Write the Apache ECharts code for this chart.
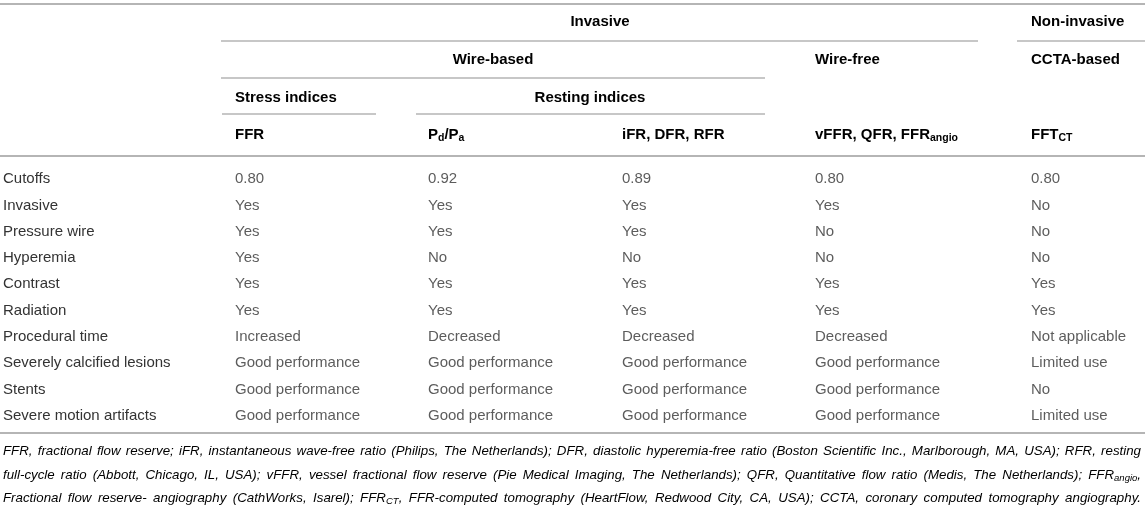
<!DOCTYPE html>
<html><head><meta charset="utf-8">
<script src="https://cdn.jsdelivr.net/npm/echarts@6/dist/echarts.min.js"></script>
<style>html,body{margin:0;padding:0;background:#fff}#c{width:1145px;height:507px}</style>
</head><body><div id="c"></div>
<script>
// ---------- data ----------
const rowLabels = ['Cutoffs','Invasive','Pressure wire','Hyperemia','Contrast','Radiation','Procedural time','Severely calcified lesions','Stents','Severe motion artifacts'];
const colFFR   = ['0.80','Yes','Yes','Yes','Yes','Yes','Increased','Good performance','Good performance','Good performance'];
const colPdPa  = ['0.92','Yes','Yes','No','Yes','Yes','Decreased','Good performance','Good performance','Good performance'];
const colIFR   = ['0.89','Yes','Yes','No','Yes','Yes','Decreased','Good performance','Good performance','Good performance'];
const colVFFR  = ['0.80','Yes','No','No','Yes','Yes','Decreased','Good performance','Good performance','Good performance'];
const colFFTCT = ['0.80','No','No','No','Yes','Yes','Not applicable','Limited use','No','Limited use'];
const groupHeaders = ['Invasive','Non-invasive'];
const subGroupHeaders = ['Wire-based','Wire-free','CCTA-based'];
const indexHeaders = ['Stress indices','Resting indices'];
const columnHeaders = ['FFR','P{s|d}/P{s|a}','iFR, DFR, RFR','vFFR, QFR, FFR{s|angio}','FFT{s|CT}'];
const footnoteLines = [
  'FFR, fractional flow reserve; iFR, instantaneous wave-free ratio (Philips, The Netherlands); DFR, diastolic hyperemia-free ratio (Boston Scientific Inc., Marlborough, MA, USA); RFR, resting',
  'full-cycle ratio (Abbott, Chicago, IL, USA); vFFR, vessel fractional flow reserve (Pie Medical Imaging, The Netherlands); QFR, Quantitative flow ratio (Medis, The Netherlands); FFR{s|angio},',
  'Fractional flow reserve- angiography (CathWorks, Isarel); FFR{s|CT}, FFR-computed tomography (HeartFlow, Redwood City, CA, USA); CCTA, coronary computed tomography angiography.'
];

// ---------- layout ----------
const W = 1145, H = 507;
const FAMILY = 'Liberation Sans';
const FONT = '"Liberation Sans", Arial, Helvetica, sans-serif';
const BODY_SIZE = 15;
const BODY_COLOR = '#333333';
const HEAD_COLOR = '#1a1a1a';
const FOOT_COLOR = '#3a3a3a';
const LINE_COLOR = '#b5b5b5';
const COL_X = [235, 428, 622, 815, 1031];
const ROW_TOP = 166, ROW_BAND = 26.3;
const HEAD_Y = [22, 60, 98, 135];
const FOOT_Y = [451, 475, 498];
const FOOT_LEFT = 3, FOOT_RIGHT = 1141;
const FN = 13.3, FN_SUB = 9.5;

const columns = [colFFR, colPdPa, colIFR, colVFFR, colFFTCT];

const series = columns.map((col, c) => ({
  type: 'scatter',
  symbolSize: 0,
  silent: true,
  data: col.map((v, i) => [COL_X[c], rowLabels[i], v]),
  label: {
    show: true, position: [0, 0], align: 'left', verticalAlign: 'middle',
    formatter: p => p.value[2],
    fontFamily: FONT, fontSize: BODY_SIZE, color: BODY_COLOR
  }
}));

const richHead = {
  s: { fontFamily: FONT, fontSize: 10.5, fontWeight: 'bold', color: HEAD_COLOR, verticalAlign: 'bottom' },
  n: { fontFamily: FONT, fontSize: BODY_SIZE, fontWeight: 'bold', color: HEAD_COLOR, lineHeight: 18 }
};
function toRich(txt) {
  return txt.split(/(\{s\|[^}]*\})/).filter(Boolean).map(p => p.startsWith('{s|') ? p : '{n|' + p + '}').join('');
}
function headText(txt, x, y, align) {
  return { type: 'text', x: x, y: y, silent: true,
    style: { text: toRich(txt), rich: richHead, align: align || 'left', verticalAlign: 'middle' } };
}
function hline(x1, x2, y, w) {
  return { type: 'line', silent: true, shape: { x1: x1, y1: y, x2: x2, y2: y },
           style: { stroke: LINE_COLOR, lineWidth: w || 1.5 } };
}

// footnote: justified by word spacing
const ctx = document.createElement('canvas').getContext('2d');
function measure(str, size) { ctx.font = 'italic ' + size + 'px "' + FAMILY + '"'; return ctx.measureText(str).width; }
function wordWidth(w) {
  return w.split(/(\{s\|[^}]*\})/).filter(Boolean).reduce((t, p) =>
    t + (p.startsWith('{s|') ? measure(p.slice(3, -1), FN_SUB) : measure(p, FN)), 0);
}
const richFoot = {
  n: { fontFamily: FONT, fontSize: FN, fontStyle: 'italic', color: FOOT_COLOR, lineHeight: FN + 4 },
  s: { fontFamily: FONT, fontSize: FN_SUB, fontStyle: 'italic', color: FOOT_COLOR, verticalAlign: 'bottom' }
};
function footLine(line, y, out) {
  const words = line.split(' ');
  const widths = words.map(wordWidth);
  const total = widths.reduce((a, b) => a + b, 0);
  const gap = Math.max(measure(' ', FN), (FOOT_RIGHT - FOOT_LEFT - total) / (words.length - 1));
  let x = FOOT_LEFT;
  words.forEach((w, i) => {
    out.push({ type: 'text', x: x, y: y, silent: true,
      style: { text: toRich(w), rich: richFoot, align: 'left', verticalAlign: 'middle' } });
    x += widths[i] + gap;
  });
}

const graphics = [
  hline(0, W, 4, 2),
  hline(221, 978, 41), hline(1017, W, 41),
  hline(221, 765, 78),
  hline(222, 376, 114), hline(416, 765, 114),
  hline(0, W, 156, 2),
  hline(0, W, 433, 2),
  headText(groupHeaders[0], 600, HEAD_Y[0], 'center'),
  headText(groupHeaders[1], COL_X[4], HEAD_Y[0]),
  headText(subGroupHeaders[0], 493, HEAD_Y[1], 'center'),
  headText(subGroupHeaders[1], COL_X[3], HEAD_Y[1]),
  headText(subGroupHeaders[2], COL_X[4], HEAD_Y[1]),
  headText(indexHeaders[0], COL_X[0], HEAD_Y[2]),
  headText(indexHeaders[1], 590, HEAD_Y[2], 'center')
];
columnHeaders.forEach((h, c) => graphics.push(headText(h, COL_X[c], HEAD_Y[3])));
footnoteLines.forEach((l, i) => footLine(l, FOOT_Y[i], graphics));

const chart = echarts.init(document.getElementById('c'), null, { renderer: 'canvas' });
chart.setOption({
  animation: false,
  backgroundColor: '#fff',
  grid: { left: 0, right: 0, top: ROW_TOP, bottom: H - ROW_TOP - ROW_BAND * rowLabels.length, containLabel: false },
  xAxis: { type: 'value', min: 0, max: W, show: false },
  yAxis: {
    type: 'category', data: rowLabels, inverse: true,
    axisLine: { show: false }, axisTick: { show: false }, splitLine: { show: false },
    axisLabel: { align: 'left', margin: -3, fontFamily: FONT, fontSize: BODY_SIZE, color: BODY_COLOR }
  },
  series: series,
  graphic: graphics
});
</script>
</body></html>
